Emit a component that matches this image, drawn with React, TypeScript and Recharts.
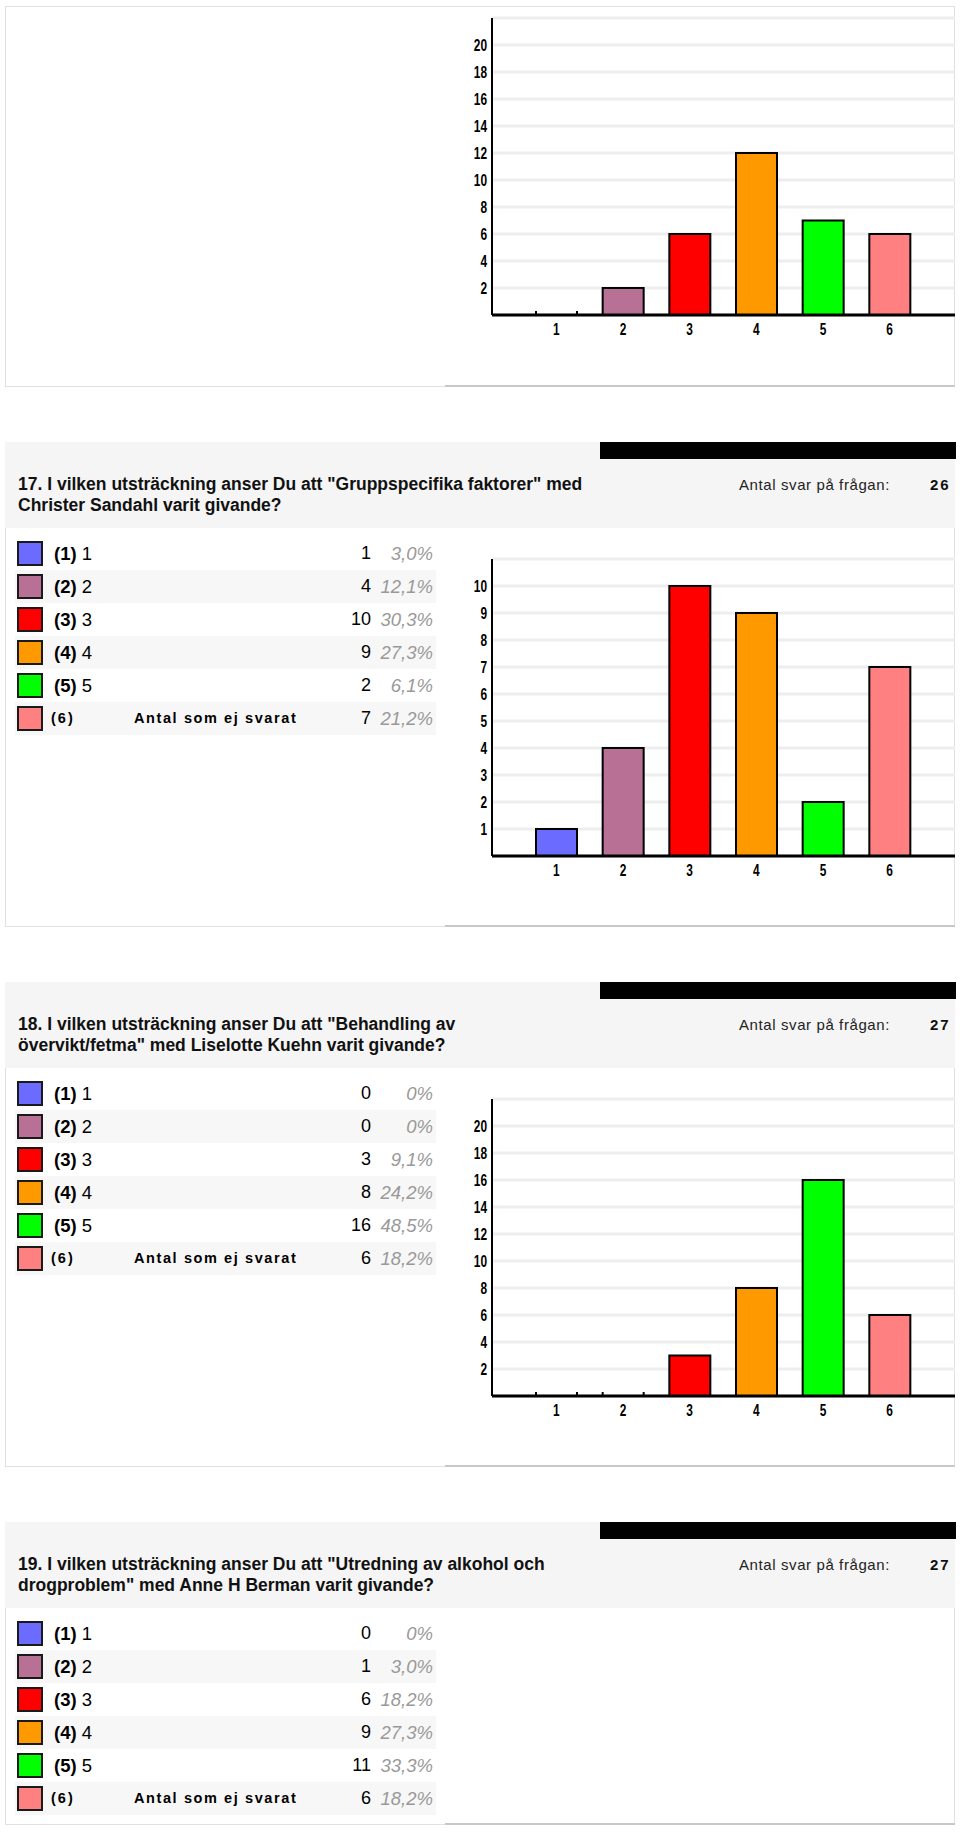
import React from 'react';
import { BarChart, Bar, XAxis, YAxis, CartesianGrid, Cell } from 'recharts';

const categories = ['1', '2', '3', '4', '5', '6'];
const barColors = ['#6b6bff', '#b87094', '#ff0000', '#ff9900', '#00ff00', '#ff8080'];
const optionCodes = ['(1)', '(2)', '(3)', '(4)', '(5)', '(6)'];
const optionLabels = ['1', '2', '3', '4', '5', 'Antal som ej svarat'];

const q16Counts = [0, 2, 6, 12, 7, 6];

const q17Title = ['17. I vilken utsträckning anser Du att "Gruppspecifika faktorer" med', 'Christer Sandahl varit givande?'];
const q17Answers = 26;
const q17Counts = [1, 4, 10, 9, 2, 7];
const q17Percents = ['3,0%', '12,1%', '30,3%', '27,3%', '6,1%', '21,2%'];

const q18Title = ['18. I vilken utsträckning anser Du att "Behandling av', 'övervikt/fetma" med Liselotte Kuehn varit givande?'];
const q18Answers = 27;
const q18Counts = [0, 0, 3, 8, 16, 6];
const q18Percents = ['0%', '0%', '9,1%', '24,2%', '48,5%', '18,2%'];

const q19Title = ['19. I vilken utsträckning anser Du att "Utredning av alkohol och', 'drogproblem" med Anne H Berman varit givande?'];
const q19Answers = 27;
const q19Counts = [0, 1, 6, 9, 11, 6];
const q19Percents = ['0%', '3,0%', '18,2%', '27,3%', '33,3%', '18,2%'];

const ticksByTwo = [2, 4, 6, 8, 10, 12, 14, 16, 18, 20];
const ticksByOne = [1, 2, 3, 4, 5, 6, 7, 8, 9, 10];

const answersLabel = 'Antal svar på frågan:';

const FONT = "'Liberation Sans', Arial, Helvetica, sans-serif";
const PLOT_H = 297;

const YTick = (props: any) => {
  const { x, y, payload } = props;
  return (
    <g transform={`translate(${x},${y})`}>
      <text transform="scale(0.7,1)" textAnchor="end" dy="0.36em" fontSize={17} fontWeight="bold" fontFamily={FONT} fill="#000">
        {payload.value}
      </text>
    </g>
  );
};

const XTick = (props: any) => {
  const { x, y, payload } = props;
  return (
    <g transform={`translate(${x},${y})`}>
      <text transform="scale(0.7,1)" textAnchor="middle" y={20} fontSize={17} fontWeight="bold" fontFamily={FONT} fill="#000">
        {payload.value}
      </text>
    </g>
  );
};

const BarShape = (props: any) => {
  const { x, y, width, height, fill } = props;
  if (!height || height < 0.5) {
    return (
      <g>
        <line x1={x} x2={x} y1={y - 4} y2={y} stroke="#000" strokeWidth={2} />
        <line x1={x + width} x2={x + width} y1={y - 4} y2={y} stroke="#000" strokeWidth={2} />
      </g>
    );
  }
  return <rect x={x} y={y} width={width} height={height} fill={fill} stroke="#000" strokeWidth={2} />;
};

function Chart({ counts, ticks, max, top }: { counts: number[]; ticks: number[]; max: number; top: number }) {
  const data = categories.map((c, i) => ({ name: c, value: counts[i] }));
  return (
    <div style={{ position: 'absolute', left: 440, top: top - 10, width: 520, height: 10 + PLOT_H + 40 }}>
      <BarChart width={520} height={10 + PLOT_H + 40} data={data} margin={{ top: 10, right: 5, left: 0, bottom: 0 }} barSize={41}>
        <CartesianGrid horizontal vertical={false} stroke="#eeeeee" strokeWidth={3} />
        <XAxis
          dataKey="name"
          height={40}
          padding={{ left: 31, right: 32 }}
          axisLine={{ stroke: '#000', strokeWidth: 3 }}
          tickLine={false}
          tickSize={0}
          tickMargin={0}
          tick={<XTick />}
          interval={0}
        />
        <YAxis
          width={52}
          domain={[0, max]}
          ticks={ticks}
          allowDataOverflow
          axisLine={{ stroke: '#000', strokeWidth: 2 }}
          tickLine={false}
          tickSize={0}
          tickMargin={5}
          tick={<YTick />}
          interval={0}
        />
        <Bar dataKey="value" isAnimationActive={false} shape={<BarShape />}>
          {data.map((d, i) => (
            <Cell key={d.name} fill={barColors[i]} />
          ))}
        </Bar>
      </BarChart>
    </div>
  );
}

function Legend({ top, counts, percents }: { top: number; counts: number[]; percents: string[] }) {
  return (
    <>
      {optionCodes.map((code, i) => {
        const rowTop = top + i * 33;
        const last = i === 5;
        return (
          <div key={code}>
            <div style={{ position: 'absolute', left: 15, top: rowTop, width: 421, height: 33, background: i % 2 === 1 ? '#f7f7f7' : 'transparent' }} />
            <div style={{ position: 'absolute', left: 17, top: rowTop + 4, width: 26, height: 25, boxSizing: 'border-box', border: '2px solid #1a1a1a', background: barColors[i] }} />
            {last ? (
              <>
                <div style={{ position: 'absolute', left: 51, top: rowTop, height: 33, lineHeight: '33px', fontSize: 14.5, fontWeight: 'bold', letterSpacing: 2, color: '#000' }}>{code}</div>
                <div style={{ position: 'absolute', left: 134, top: rowTop, height: 33, lineHeight: '33px', fontSize: 14.5, fontWeight: 'bold', letterSpacing: 1.6, color: '#000' }}>{optionLabels[i]}</div>
              </>
            ) : (
              <div style={{ position: 'absolute', left: 54, top: rowTop, height: 33, lineHeight: '33px', fontSize: 18.5, color: '#000', whiteSpace: 'nowrap' }}>
                <b>{code}</b> {optionLabels[i]}
              </div>
            )}
            <div style={{ position: 'absolute', left: 300, top: rowTop, width: 71, height: 33, lineHeight: '33px', fontSize: 18, textAlign: 'right', color: '#000' }}>{counts[i]}</div>
            <div style={{ position: 'absolute', left: 363, top: rowTop, width: 70, height: 33, lineHeight: '33px', fontSize: 18.5, textAlign: 'right', fontStyle: 'italic', color: '#999' }}>{percents[i]}</div>
          </div>
        );
      })}
    </>
  );
}

function Question({ top, height, title, answers, counts, percents, chart }: any) {
  return (
    <>
      <div style={{ position: 'absolute', left: 5, top, width: 950, height, boxSizing: 'border-box', border: '1px solid #e0e0e0', background: '#fff' }} />
      <div style={{ position: 'absolute', left: 445, top: top + height - 2, width: 510, height: 2, background: '#c8c8c8' }} />
      <div style={{ position: 'absolute', left: 5, top, width: 950, height: 86, background: '#f5f5f5' }} />
      <div style={{ position: 'absolute', left: 600, top, width: 356, height: 17, background: '#000' }} />
      <div style={{ position: 'absolute', left: 18, top: top + 32, fontSize: 17.5, fontWeight: 'bold', lineHeight: '21px', color: '#111', whiteSpace: 'nowrap' }}>
        {title.map((t: string) => (
          <div key={t}>{t}</div>
        ))}
      </div>
      <div style={{ position: 'absolute', left: 739, top: top + 32, lineHeight: '21px', fontSize: 15, letterSpacing: 0.6, color: '#222', whiteSpace: 'nowrap' }}>{answersLabel}</div>
      <div style={{ position: 'absolute', left: 930, top: top + 32, lineHeight: '21px', fontSize: 15, letterSpacing: 2, fontWeight: 'bold', color: '#111' }}>{answers}</div>
      <Legend top={top + 95} counts={counts} percents={percents} />
      {chart}
    </>
  );
}

export default function App() {
  return (
    <div style={{ position: 'absolute', left: 0, top: 0, width: 960, height: 1832, background: '#fff', fontFamily: FONT, overflow: 'hidden' }}>
      <div style={{ position: 'absolute', left: 5, top: 6, width: 950, height: 381, boxSizing: 'border-box', border: '1px solid #e0e0e0' }} />
      <div style={{ position: 'absolute', left: 445, top: 385, width: 510, height: 2, background: '#c8c8c8' }} />
      <Chart counts={q16Counts} ticks={ticksByTwo} max={22} top={18} />

      <Question
        top={442}
        height={485}
        title={q17Title}
        answers={q17Answers}
        counts={q17Counts}
        percents={q17Percents}
        chart={<Chart counts={q17Counts} ticks={ticksByOne} max={11} top={442 + 117} />}
      />
      <Question
        top={982}
        height={485}
        title={q18Title}
        answers={q18Answers}
        counts={q18Counts}
        percents={q18Percents}
        chart={<Chart counts={q18Counts} ticks={ticksByTwo} max={22} top={982 + 117} />}
      />
      <Question
        top={1522}
        height={303}
        title={q19Title}
        answers={q19Answers}
        counts={q19Counts}
        percents={q19Percents}
        chart={null}
      />
    </div>
  );
}
